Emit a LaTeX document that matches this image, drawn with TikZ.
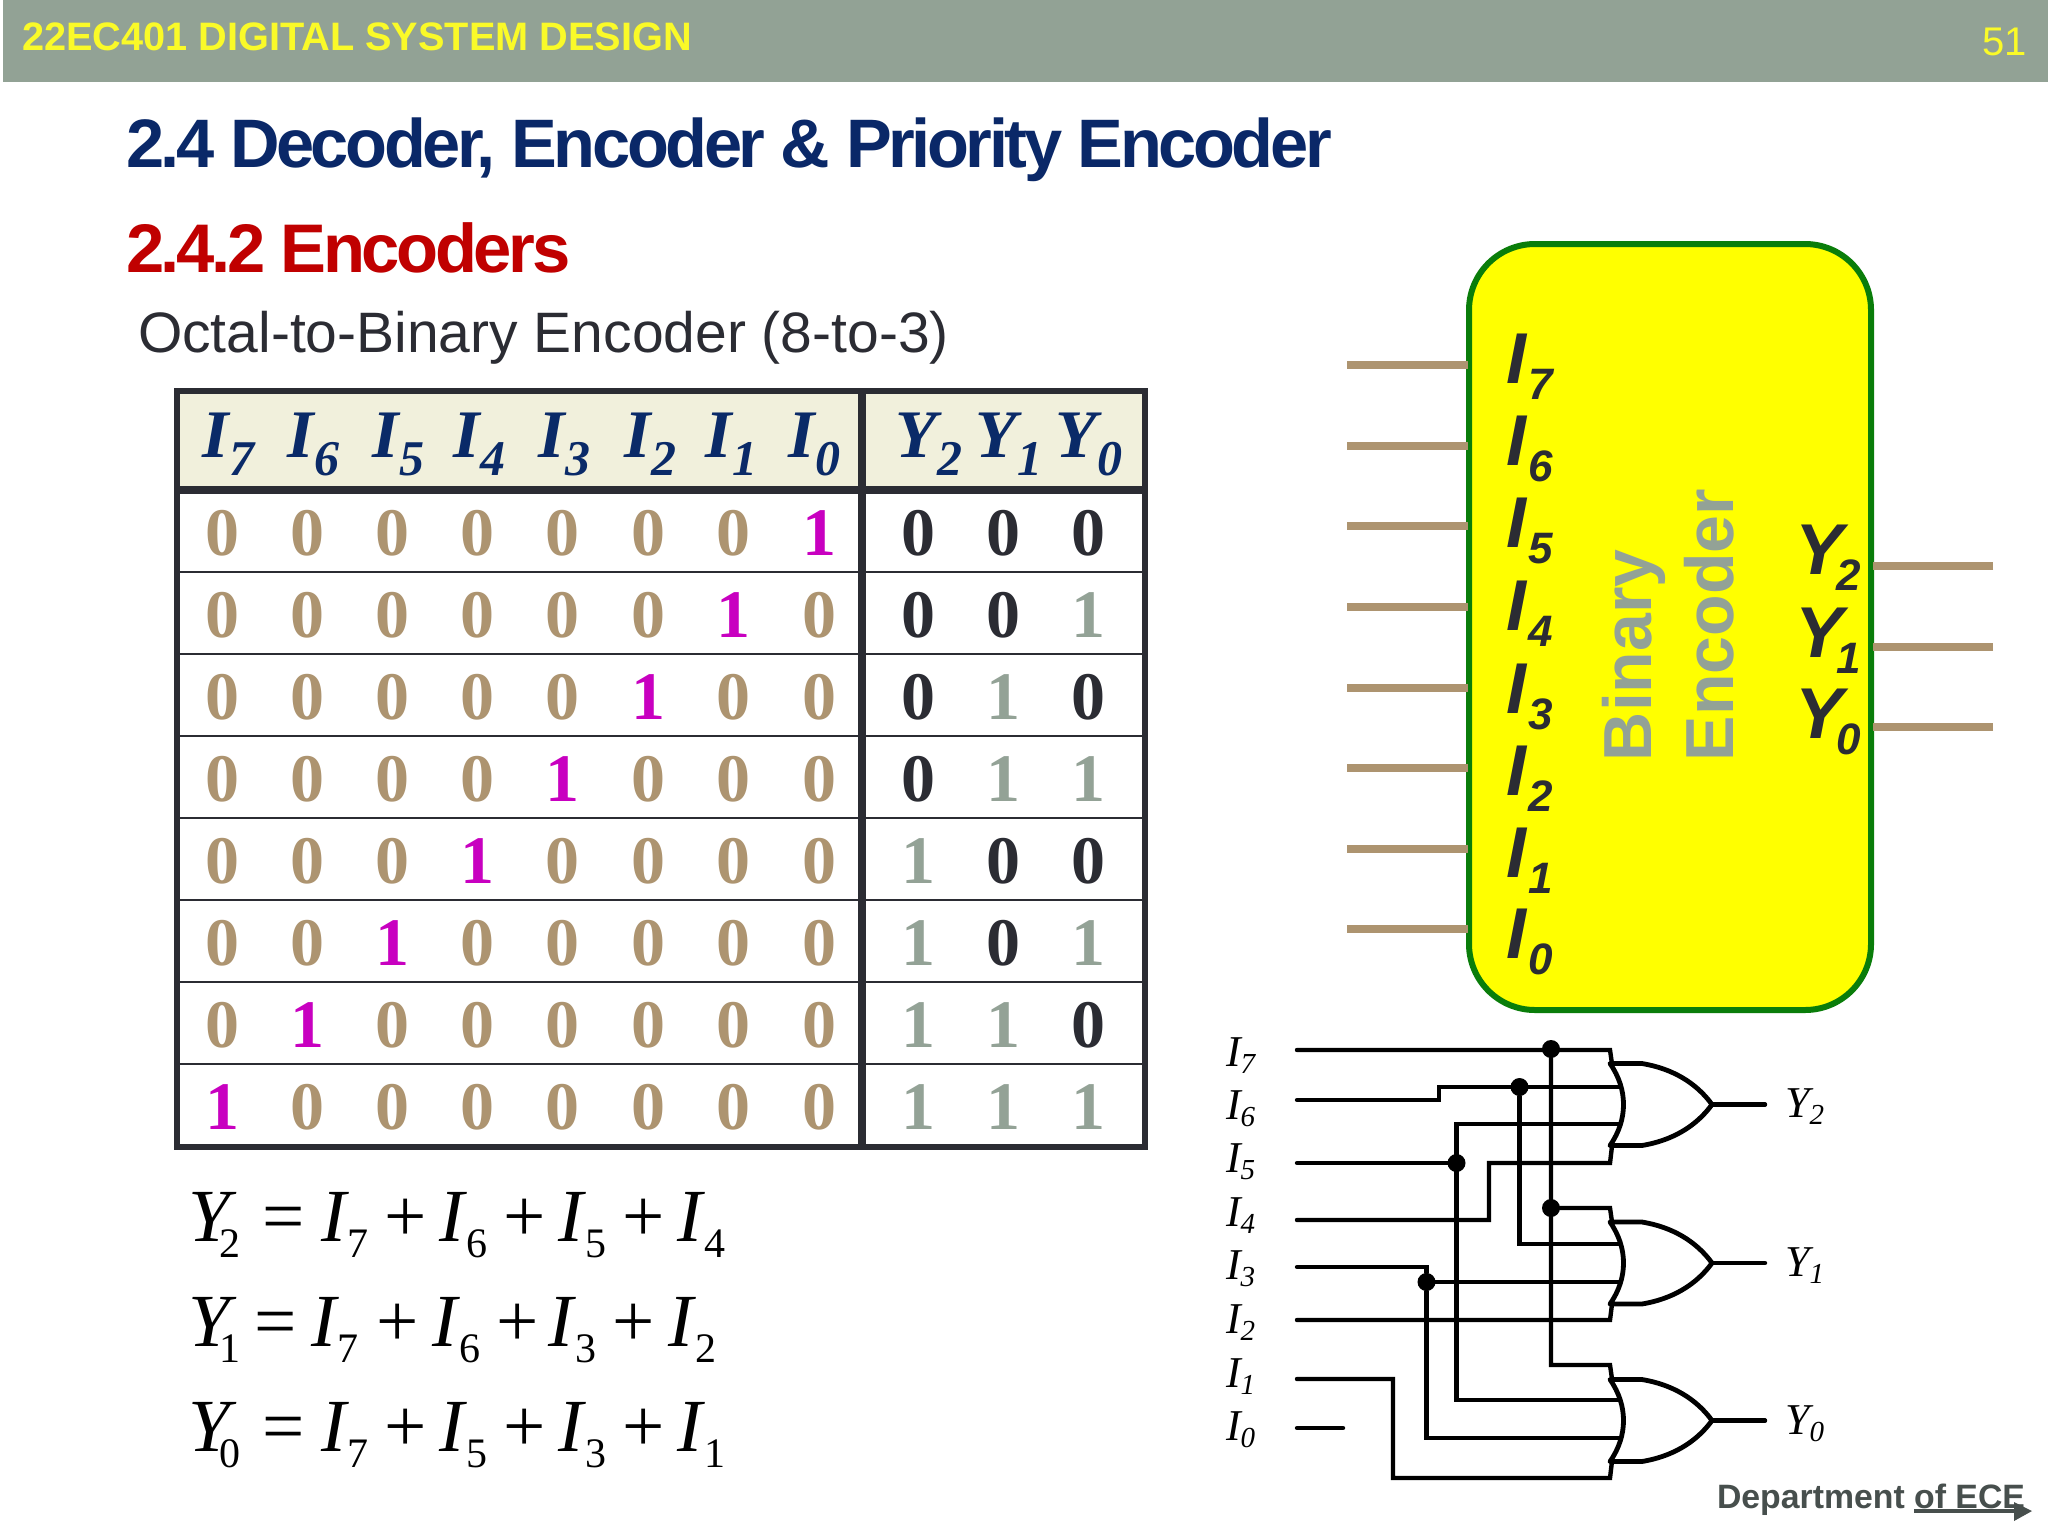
\documentclass[tikz,border=0pt]{standalone}
\usepackage{fontspec}
\setmainfont{Liberation Serif}
\setsansfont{Liberation Sans}
\newfontfamily\tightsans[LetterSpace=-5]{Liberation Sans}
\definecolor{band}{HTML}{92A295}
\definecolor{navy}{HTML}{0A2868}
\definecolor{hnavy}{HTML}{0A2A68}
\definecolor{crimson}{HTML}{C00000}
\definecolor{ink}{HTML}{2B2C33}
\definecolor{tan}{HTML}{AD9470}
\definecolor{magent}{HTML}{C800C0}
\definecolor{sage}{HTML}{93A296}
\definecolor{headfill}{HTML}{F1F0DC}
\definecolor{boxgreen}{HTML}{0A7D0A}
\definecolor{deptgrey}{HTML}{474F4D}
\definecolor{pureyellow}{RGB}{255,255,0}
\definecolor{headyellow}{RGB}{250,250,40}
\newcommand{\Sb}[1]{\raisebox{-8pt}{\fontsize{21}{21}\selectfont #1}}
\newcommand{\Hd}[2]{\hbox{\fontsize{34}{34}\selectfont\bfseries\itshape #1\raisebox{-9pt}{\fontsize{25}{25}\selectfont\hspace{0.5pt}#2}}}
\newcommand{\Bk}[2]{\hbox{\sffamily\bfseries\itshape\fontsize{36}{36}\selectfont #1\raisebox{-8pt}{\fontsize{22}{22}\selectfont\hspace{1pt}#2}}}
\newcommand{\By}[2]{\hbox{\sffamily\bfseries\itshape\fontsize{36}{36}\selectfont #1\raisebox{-8pt}{\fontsize{22}{22}\selectfont\hspace{-3.5pt}#2}}}
\newcommand{\Ck}[2]{\hbox{\itshape\fontsize{22}{22}\selectfont #1\raisebox{-3.5pt}{\fontsize{14.5}{14.5}\selectfont #2}}}
\tikzset{
  x=0.5pt,y=-0.5pt,
  txt/.style={anchor=base west,inner sep=0pt,outer sep=0pt},
  stub/.style={draw=tan,line width=4pt},
  grid/.style={draw=ink,line width=1.4pt},
  outer grid/.style={draw=ink,line width=3pt},
  thick grid/.style={draw=ink,line width=4pt},
  wire/.style={draw=black,line width=2.2pt,line cap=round,line join=miter},
  gate/.style={draw=black,line width=2.4pt,fill=white,line join=round},
  joint/.style={circle,fill=black,inner sep=0pt,minimum size=9pt},
}
\begin{document}
\begin{tikzpicture}
\useasboundingbox (0,0) rectangle (2048,1536);
\fill[white] (0,0) rectangle (2048,1536);
% header band
\fill[band] (3,0) rectangle (2048,82);
\node[txt,text=headyellow] (course) at (22,51) {\sffamily\bfseries\fontsize{19.85}{20}\selectfont 22EC401 DIGITAL SYSTEM DESIGN};
\node[txt,text=headyellow] (pageno) at (1982,56) {\sffamily\fontsize{20}{20}\selectfont 51};
% titles
\node[txt,text=navy] (title) at (126,167) {\tightsans\bfseries\fontsize{34.3}{35}\selectfont 2.4 Decoder, Encoder \& Priority Encoder};
\node[txt,text=crimson] (subtitle) at (126,272) {\tightsans\bfseries\fontsize{34.4}{35}\selectfont 2.4.2 Encoders};
\node[txt,text=ink] (octal) at (138,352) {\sffamily\fontsize{28.5}{29}\selectfont Octal-to-Binary Encoder (8-to-3)};
% table
\fill[headfill] (177,391) rectangle (1145,490);
\foreach \yy in {572,654,736,818,900,982,1064} \draw[grid] (177,\yy) -- (1145,\yy);
\draw[thick grid] (177,490) -- (1145,490);
\draw[thick grid] (862,391) -- (862,1147);
\draw[outer grid] (177,391) rectangle (1145,1147);
\foreach \i/\xx/\s in {0/202/7,1/287/6,2/372/5,3/453/4,4/538/3,5/624/2,6/705/1,7/788/0}
  \node[txt,text=hnavy] (hi\i) at (\xx,457) {\Hd{I}{\s}};
\foreach \i/\xx/\s in {0/895/2,1/975/1,2/1055/0}
  \node[txt,text=hnavy] (hy\i) at (\xx,457) {\Hd{Y}{\s}};
\foreach \r in {0,...,7}{
  \pgfmathsetmacro{\ybase}{555+82*\r}
  \foreach \c/\xx in {0/222,1/307,2/392,3/477,4/562,5/648,6/733,7/819}{
    \pgfmathtruncatemacro{\isone}{\c==7-\r ? 1 : 0}
    \ifnum\isone=1
      \node[anchor=base,inner sep=0pt,text=magent] (d\r-\c) at (\xx,\ybase) {\bfseries\fontsize{34}{34}\selectfont 1};
    \else
      \node[anchor=base,inner sep=0pt,text=tan] (d\r-\c) at (\xx,\ybase) {\bfseries\fontsize{34}{34}\selectfont 0};
    \fi
  }
  \foreach \c/\xx/\wgt in {0/918/4,1/1003/2,2/1088/1}{
    \pgfmathtruncatemacro{\bitv}{mod(floor(\r/\wgt),2)}
    \ifnum\bitv=1
      \node[anchor=base,inner sep=0pt,text=sage] (o\r-\c) at (\xx,\ybase) {\bfseries\fontsize{34}{34}\selectfont 1};
    \else
      \node[anchor=base,inner sep=0pt,text=ink] (o\r-\c) at (\xx,\ybase) {\bfseries\fontsize{34}{34}\selectfont 0};
    \fi
  }
}
% equations
\node[txt,text=black] (eq2) at (188,1241) {\fontsize{37.5}{38}\selectfont\itshape Y\kern-5pt\upshape\Sb{2}\kern 11pt =\kern 8pt\itshape I\kern 1pt\upshape\Sb{7}\kern 8pt +\kern 6.2pt\itshape I\kern 1pt\upshape\Sb{6}\kern 8pt +\kern 6.2pt\itshape I\kern 1pt\upshape\Sb{5}\kern 8pt +\kern 6.2pt\itshape I\kern 1pt\upshape\Sb{4}};
\node[txt,text=black] (eq1) at (188,1346) {\fontsize{37.5}{38}\selectfont\itshape Y\kern-5pt\upshape\Sb{1}\kern 7pt =\kern 7pt\itshape I\kern 1pt\upshape\Sb{7}\kern 9pt +\kern 6.5pt\itshape I\kern 1pt\upshape\Sb{6}\kern 8pt +\kern 5pt\itshape I\kern 1pt\upshape\Sb{3}\kern 8pt +\kern 7pt\itshape I\kern 1pt\upshape\Sb{2}};
\node[txt,text=black] (eq0) at (188,1451) {\fontsize{37.5}{38}\selectfont\itshape Y\kern-5pt\upshape\Sb{0}\kern 11pt =\kern 8pt\itshape I\kern 1pt\upshape\Sb{7}\kern 8pt +\kern 6.2pt\itshape I\kern 1pt\upshape\Sb{5}\kern 8pt +\kern 6.2pt\itshape I\kern 1pt\upshape\Sb{3}\kern 8pt +\kern 6.2pt\itshape I\kern 1pt\upshape\Sb{1}};
% block
\foreach \k/\yy in {7/365,6/446,5/526,4/607,3/688,2/768,1/849,0/929}{
  \coordinate (bin\k) at (1347,\yy);
  \coordinate (bedge\k) at (1468,\yy);
}
\foreach \k/\yy in {2/566,1/647,0/727}{
  \coordinate (bout\k) at (1993,\yy);
  \coordinate (boedge\k) at (1873,\yy);
}
\draw[draw=boxgreen,line width=3pt,fill=pureyellow,rounded corners=33pt] (1469,244) rectangle (1871,1010);
\foreach \k in {7,...,0} \draw[stub] (bin\k) -- (bedge\k);
\foreach \k in {2,1,0} \draw[stub] (bout\k) -- (boedge\k);
\foreach \k/\yy in {7/383,6/465,5/547,4/630,3/713,2/795,1/877,0/958}
  \node[txt,text=ink] (bi\k) at (1506,\yy) {\Bk{I}{\k}};
\foreach \k/\yy in {2/574,1/657,0/738}
  \node[txt,text=ink] (by\k) at (1795,\yy) {\By{Y}{\k}};
\node[txt,rotate=90,text=sage] (binary) at (1651,761) {\sffamily\bfseries\fontsize{34}{34}\selectfont Binary};
\node[txt,rotate=90,text=sage] (encoder) at (1733,761) {\sffamily\bfseries\fontsize{34}{34}\selectfont Encoder};
% circuit labels
\foreach \k/\yy in {7/1066,6/1119,5/1172,4/1226,3/1279,2/1333,1/1387,0/1440}
  \node[txt] (ci\k) at (1226,\yy) {\Ck{I}{\k}};
\foreach \k/\yy in {2/1117,1/1276,0/1434}
  \node[txt] (cy\k) at (1785,\yy) {\Ck{Y}{\k}};
% circuit coordinates
\foreach \k/\yy in {7/1050,6/1100,5/1163,4/1220,3/1267,2/1320,1/1379}
  \coordinate (w\k) at (1297,\yy);
\coordinate (w0) at (1297,1428);
\coordinate (w0e) at (1343,1428);
\draw[wire] (w0) -- (w0e);
% wires
\coordinate (g2a) at (1612,1064); \coordinate (g2b) at (1621,1087); \coordinate (g2c) at (1621,1124); \coordinate (g2d) at (1612,1146);
\coordinate (g1a) at (1612,1222); \coordinate (g1b) at (1621,1244); \coordinate (g1c) at (1621,1282); \coordinate (g1d) at (1612,1304);
\coordinate (g0a) at (1612,1379); \coordinate (g0b) at (1621,1400); \coordinate (g0c) at (1621,1438); \coordinate (g0d) at (1612,1461);
\node[joint] (j7) at (1551,1049) {};
\node[joint] (j7b) at (1551,1208) {};
\node[joint] (j6) at (1519.5,1087) {};
\node[joint] (j5) at (1456.5,1163) {};
\node[joint] (j3) at (1426.5,1282) {};
\draw[wire] (w7) -- (1610,1050) -- (g2a);
\draw[wire] (w6) -- (1439,1100) -- (1439,1087) -- (g2b);
\draw[wire] (w5) -- (j5);
\draw[wire] (g2c) -- (1456.5,1124) -- (1456.5,1400) -- (g0b);
\draw[wire] (w4) -- (1489,1220) -- (1489,1163) -- (1610,1163) -- (g2d);
\draw[wire] (w3) -- (1426.5,1267) -- (j3);
\draw[wire] (j3) -- (g1c);
\draw[wire] (j3) -- (1426.5,1438) -- (g0c);
\draw[wire] (w2) -- (1610,1320) -- (g1d);
\draw[wire] (w1) -- (1393,1379) -- (1393,1478) -- (1610,1478) -- (g0d);
\draw[wire] (j7) -- (1551,1365) -- (1610,1365) -- (g0a);
\draw[wire] (j7b) -- (1610,1208) -- (g1a);
\draw[wire] (j6) -- (1519.5,1244) -- (g1b);
% gates
\foreach \g/\ym in {2/1104.5,1/1263,0/1420.5}{
  \draw[gate] (1610,\ym-41) -- (1642,\ym-41) .. controls (1672,\ym-36) and (1696,\ym-22) .. (1712,\ym)
     .. controls (1696,\ym+22) and (1672,\ym+36) .. (1642,\ym+41) -- (1610,\ym+41)
     .. controls (1628,\ym+15) and (1628,\ym-15) .. (1610,\ym-41) -- cycle;
  \coordinate (gout\g) at (1712,\ym);
  \coordinate (oe\g) at (1765,\ym);
  \draw[wire] (gout\g) -- (oe\g);
}
% footer
\node[txt,text=deptgrey] (dept) at (1717,1508) {\sffamily\bfseries\fontsize{16.9}{17}\selectfont Department of ECE};
\coordinate (ars) at (1914,1511);
\coordinate (are) at (2032,1511);
\draw[draw=deptgrey,line width=2pt] (ars) -- (2020,1511);
\fill[deptgrey] (are) -- (2014,1502) -- (2014,1521) -- cycle;
\end{tikzpicture}
\end{document}
